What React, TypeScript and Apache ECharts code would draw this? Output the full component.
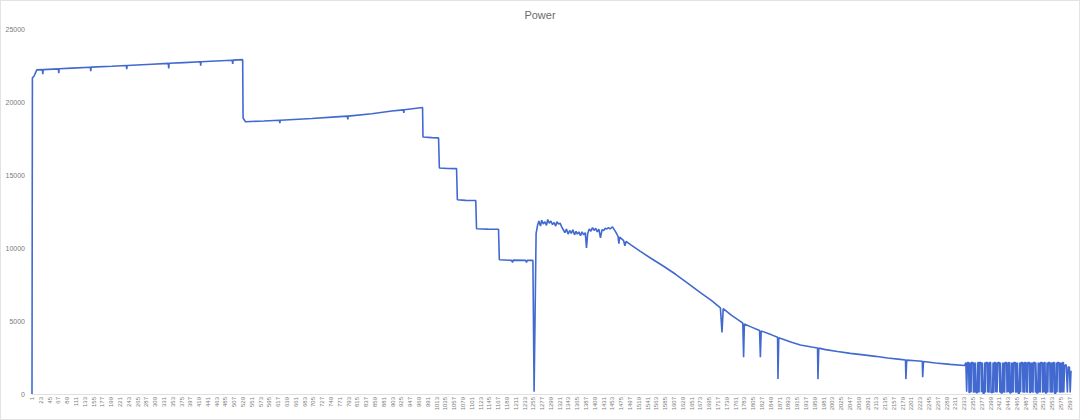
import React, { useEffect, useRef } from "react";
import * as echarts from "echarts";

const TITLE = "Power";
const POINT_COUNT = 2600;
const categories: string[] = Array.from({ length: POINT_COUNT }, (_, i) => String(i + 1));
const yTicks = [0, 5000, 10000, 15000, 20000, 25000];

// [category index, power] — key points
const phase1: [number, number][] = [
  [0, 0], [1, 21650], [5, 21760], [12, 22200], [26, 22215], [27, 21900], [28, 22220],
  [66, 22270], [67, 21980], [68, 22280], [100, 22320], [146, 22380], [147, 22120],
  [148, 22390], [200, 22450], [236, 22500], [237, 22250], [238, 22505], [300, 22590],
  [341, 22645], [342, 22300], [343, 22650], [380, 22700], [421, 22755], [422, 22480],
  [423, 22760], [460, 22810], [501, 22860], [502, 22600], [503, 22865], [527, 22900],
];
const phase2: [number, number][] = [
  [528, 18900], [534, 18650], [580, 18700], [619, 18750], [620, 18550], [621, 18755],
  [700, 18870], [760, 18980], [789, 19030], [790, 18800], [791, 19035], [850, 19200],
  [900, 19380], [929, 19460], [930, 19250], [931, 19465], [977, 19620],
];
const steps: [number, number][] = [
  [978, 17600], [1000, 17560], [1017, 17540], [1019, 15480], [1040, 15450], [1062, 15440],
  [1064, 13300], [1085, 13260], [1110, 13250], [1112, 11320], [1140, 11290], [1167, 11280],
  [1169, 9200], [1200, 9150], [1202, 9000], [1204, 9170], [1235, 9150], [1237, 9000],
  [1239, 9160], [1253, 9150],
];
const recovery: [number, number][] = [
  [1256, 150], [1261, 11000], [1265, 11600], [1268, 11850], [1272, 11500], [1275, 11900],
  [1279, 11650], [1283, 11800], [1287, 11550], [1290, 11950], [1294, 11700], [1298, 11850],
  [1302, 11600], [1306, 11750], [1310, 11500], [1313, 11800], [1317, 11650], [1321, 11700],
  [1325, 11450], [1329, 11250], [1333, 11050], [1337, 11300], [1341, 10950], [1345, 11200],
  [1349, 11000], [1353, 11250], [1357, 10900], [1361, 11150], [1364, 10950], [1368, 11100],
  [1372, 10850], [1376, 11100], [1380, 10900], [1384, 11050], [1387, 10000], [1390, 11000],
  [1394, 11300], [1398, 11150], [1402, 11400], [1406, 11200], [1410, 11350], [1414, 11100],
  [1418, 11300], [1422, 10700], [1426, 11250], [1430, 11200], [1434, 11350], [1438, 11300],
  [1442, 11400], [1446, 11300], [1452, 11450],
];
const decline: [number, number][] = [
  [1460, 11100], [1466, 10800], [1468, 10300], [1470, 10750], [1480, 10500], [1483, 10150],
  [1486, 10450], [1498, 10215], [1520, 9800], [1548, 9300], [1580, 8750], [1610, 8200],
  [1640, 7600], [1672, 6950], [1700, 6400], [1722, 5900], [1726, 4220], [1729, 5850],
  [1750, 5380], [1772, 4980], [1778, 4850], [1780, 2520], [1782, 4800], [1800, 4580],
  [1820, 4350], [1822, 2520], [1824, 4320], [1850, 4050], [1865, 3880], [1866, 1020],
  [1868, 3860], [1900, 3550], [1922, 3360], [1950, 3220], [1965, 3150], [1966, 1020],
  [1968, 3140], [1985, 3040], [2015, 2910], [2047, 2780], [2080, 2680], [2110, 2580],
  [2140, 2470], [2172, 2370], [2185, 2330], [2186, 1020], [2188, 2320], [2210, 2280],
  [2227, 2240], [2228, 1150], [2230, 2230], [2260, 2120], [2297, 2030], [2333, 1950],
];
const onOff: [number, number][] = [
  [2336, 2150], [2338, 150], [2340, 2150], [2343, 2150], [2344, 100], [2346, 100],
  [2347, 2150], [2349, 120], [2350, 2150], [2354, 2150], [2355, 80], [2357, 2150],
  [2359, 110], [2360, 2150], [2361, 2150], [2362, 90], [2365, 90], [2366, 2150],
  [2368, 2150], [2369, 100], [2370, 2150], [2374, 2150], [2375, 120], [2377, 2150],
  [2379, 60], [2382, 60], [2383, 2150], [2385, 100], [2386, 2150], [2390, 2150],
  [2391, 110], [2392, 2150], [2394, 90], [2395, 2150], [2398, 2150], [2399, 100],
  [2403, 100], [2404, 2150], [2406, 80], [2407, 2150], [2410, 2150], [2411, 120],
  [2412, 2150], [2414, 100], [2416, 2150], [2420, 2150], [2421, 100], [2422, 2150],
  [2424, 70], [2427, 70], [2428, 2150], [2430, 110], [2431, 2150], [2433, 90],
  [2434, 2150], [2438, 2150], [2439, 100], [2440, 2150], [2442, 120], [2443, 2150],
  [2445, 2150], [2446, 80], [2449, 80], [2450, 2150], [2452, 100], [2453, 2150],
  [2455, 110], [2456, 2150], [2460, 2150], [2461, 90], [2462, 2150], [2464, 100],
  [2465, 2150], [2467, 60], [2470, 60], [2471, 2150], [2473, 120], [2474, 2150],
  [2478, 2150], [2479, 100], [2480, 2150], [2482, 90], [2483, 2150], [2486, 2150],
  [2487, 110], [2488, 2150], [2490, 80], [2491, 2150], [2495, 2150], [2496, 100],
  [2498, 100], [2499, 2150], [2501, 120], [2502, 2150], [2504, 90], [2505, 2150],
  [2509, 2150], [2510, 100], [2511, 2150], [2513, 70], [2516, 70], [2517, 2150],
  [2519, 110], [2520, 2150], [2522, 100], [2523, 2150], [2527, 2150], [2528, 90],
  [2529, 2150], [2531, 120], [2532, 2150], [2534, 2150], [2535, 80], [2538, 80],
  [2539, 2150], [2541, 100], [2542, 2150], [2546, 2150], [2547, 110], [2548, 2150],
  [2550, 90], [2551, 2150], [2553, 100], [2554, 2150], [2557, 2150], [2558, 60],
  [2561, 60], [2562, 2150], [2564, 120], [2565, 2150], [2569, 2150], [2570, 100],
  [2571, 2150], [2573, 90], [2574, 2150], [2577, 110], [2578, 2150], [2580, 2150],
  [2581, 100], [2583, 1950], [2587, 2000], [2590, 100], [2592, 1850], [2595, 1850],
  [2597, 100], [2599, 1600],
];

const powerPoints: [number, number][] = [
  ...phase1, ...phase2, ...steps, ...recovery, ...decline, ...onOff,
];

const FONT = "Liberation Sans, Arial, sans-serif";

export default function App() {
  const ref = useRef<HTMLDivElement>(null);
  useEffect(() => {
    if (!ref.current) return;
    const chart = echarts.init(ref.current, undefined, { renderer: "svg" });
    chart.setOption({
      animation: false,
      backgroundColor: "#ffffff",
      title: {
        text: TITLE,
        left: "center",
        top: 3,
        textStyle: { color: "#6b6b6b", fontSize: 11, fontWeight: "normal", fontFamily: FONT },
      },
      grid: { left: 31, right: 8, top: 28, bottom: 25, containLabel: false },
      xAxis: {
        type: "category",
        data: categories,
        boundaryGap: false,
        axisLine: { show: true, lineStyle: { color: "#e0e0e0" } },
        axisTick: { show: false },
        axisLabel: {
          interval: 21,
          rotate: 90,
          fontSize: 6,
          color: "#7a7a7a",
          margin: 3,
          fontFamily: FONT,
        },
        splitLine: { show: false },
      },
      yAxis: {
        type: "value",
        min: yTicks[0],
        max: yTicks[yTicks.length - 1],
        interval: 5000,
        axisLine: { show: false },
        axisTick: { show: false },
        splitLine: { show: false },
        axisLabel: {
          fontSize: 7,
          color: "#7a7a7a",
          margin: 7,
          fontFamily: FONT,
          formatter: (v: number) => String(v),
        },
      },
      series: [
        {
          type: "line",
          data: powerPoints,
          showSymbol: false,
          lineStyle: { color: "#4169d0", width: 1.6 },
          itemStyle: { color: "#4169d0" },
        },
      ],
    });
    return () => chart.dispose();
  }, []);
  return (
    <div
      ref={ref}
      style={{
        position: "fixed",
        left: 0,
        top: 0,
        width: 1080,
        height: 420,
        boxSizing: "border-box",
        border: "1px solid #e3e3e3",
        background: "#fff",
      }}
    />
  );
}
